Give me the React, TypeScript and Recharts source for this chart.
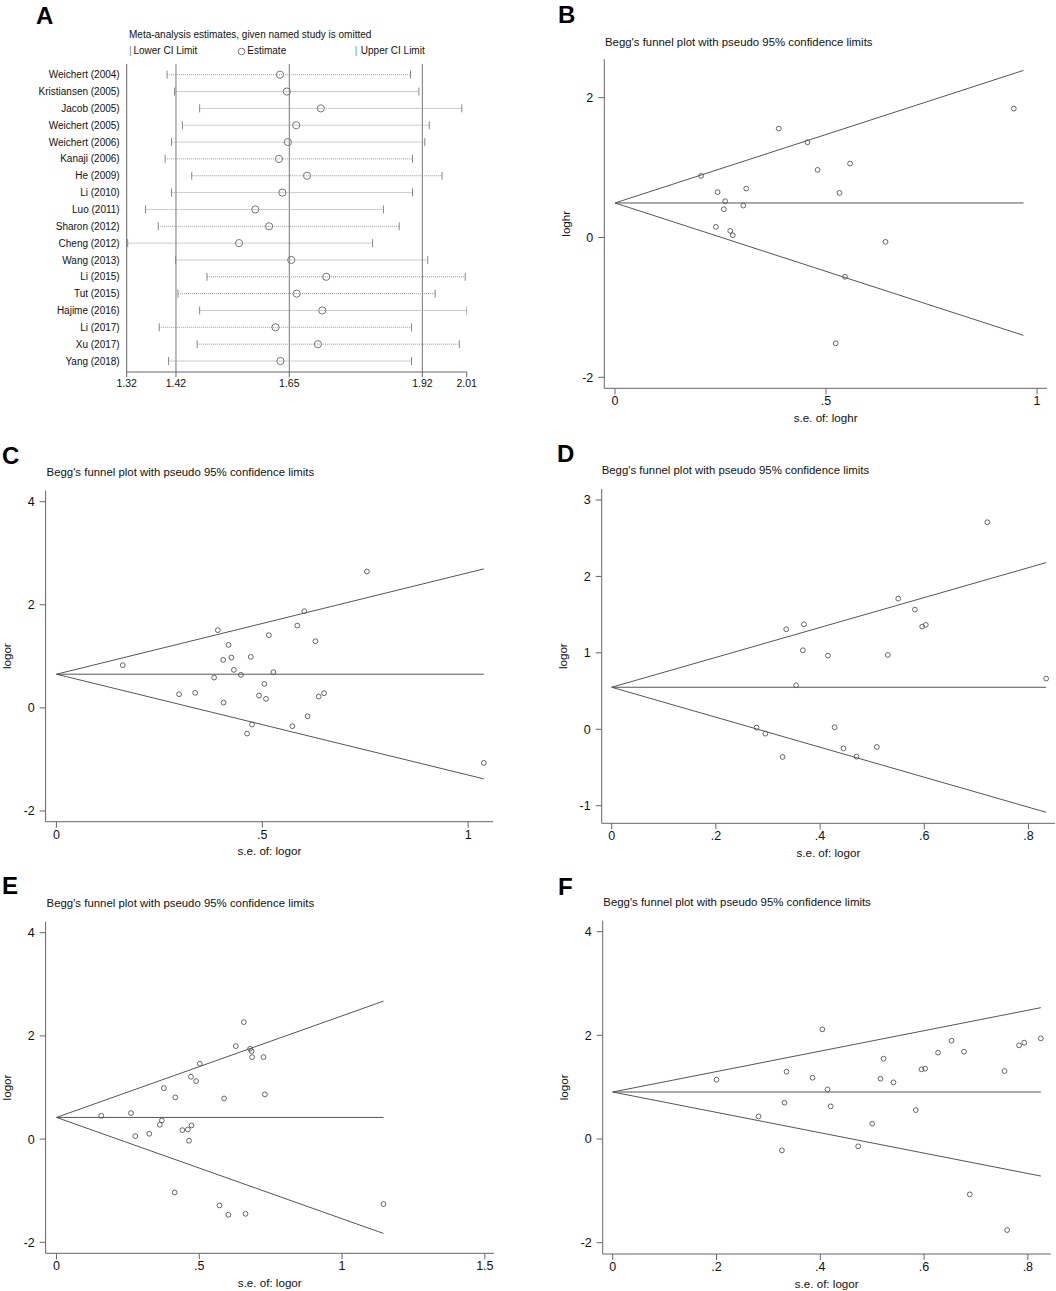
import React from 'react'
import { ScatterChart, Scatter, XAxis, YAxis, ReferenceLine } from 'recharts'

// A: leave-one-out estimates
const studies = [
  'Weichert (2004)', 'Kristiansen (2005)', 'Jacob (2005)', 'Weichert (2005)', 'Weichert (2006)',
  'Kanaji (2006)', 'He (2009)', 'Li (2010)', 'Luo (2011)', 'Sharon (2012)', 'Cheng (2012)',
  'Wang (2013)', 'Li (2015)', 'Tut (2015)', 'Hajime (2016)', 'Li (2017)', 'Xu (2017)', 'Yang (2018)',
]
const estimate = [1.631, 1.645, 1.714, 1.664, 1.647, 1.629, 1.686, 1.636, 1.581, 1.609, 1.548, 1.654, 1.725, 1.665, 1.717, 1.622, 1.708, 1.632]
const lowerCI = [1.402, 1.417, 1.468, 1.433, 1.411, 1.398, 1.452, 1.411, 1.358, 1.384, 1.322, 1.419, 1.483, 1.424, 1.468, 1.386, 1.463, 1.405]
const upperCI = [1.896, 1.913, 2.0, 1.934, 1.925, 1.9, 1.96, 1.9, 1.841, 1.873, 1.819, 1.931, 2.007, 1.946, 2.01, 1.898, 1.995, 1.898]
const overallLines = [1.42, 1.65, 1.92]
const xTicksA = [1.32, 1.42, 1.65, 1.92, 2.01]

// B..F: funnel plots (se, effect)
const seB = [0.204, 0.243, 0.261, 0.258, 0.239, 0.273, 0.279, 0.304, 0.311, 0.388, 0.456, 0.48, 0.557, 0.532, 0.641, 0.545, 0.523, 0.945]
const effB = [0.881, 0.648, 0.519, 0.405, 0.152, 0.095, 0.033, 0.457, 0.7, 1.557, 1.362, 0.967, 1.057, 0.638, -0.062, -0.562, -1.514, 1.843]
const funnelB = { center: 0.494, seMax: 0.968, upper: 2.39, lower: -1.4 }

const seC = [0.161, 0.298, 0.337, 0.392, 0.383, 0.405, 0.418, 0.425, 0.431, 0.448, 0.406, 0.472, 0.492, 0.505, 0.509, 0.516, 0.527, 0.475, 0.463, 0.573, 0.585, 0.602, 0.61, 0.629, 0.637, 0.65, 0.754, 1.038]
const effC = [0.828, 0.265, 0.291, 1.507, 0.588, 0.931, 1.222, 0.976, 0.737, 0.64, 0.103, 0.989, 0.239, 0.466, 0.175, 1.41, 0.692, -0.323, -0.498, -0.356, 1.597, 1.875, -0.162, 1.293, 0.22, 0.285, 2.645, -1.067]
const funnelC = { center: 0.653, seMax: 1.038, upper: 2.696, lower: -1.377 }

const seD = [0.278, 0.295, 0.328, 0.335, 0.354, 0.367, 0.369, 0.415, 0.428, 0.445, 0.47, 0.509, 0.53, 0.55, 0.582, 0.596, 0.603, 0.721, 0.834]
const effD = [0.022, -0.057, -0.362, 1.309, 0.576, 1.034, 1.374, 0.964, 0.026, -0.249, -0.358, -0.231, 0.973, 1.71, 1.566, 1.344, 1.366, 2.709, 0.663]
const funnelD = { center: 0.55, seMax: 0.834, upper: 2.181, lower: -1.086 }

const seE = [0.157, 0.261, 0.276, 0.325, 0.362, 0.369, 0.376, 0.416, 0.414, 0.441, 0.46, 0.473, 0.464, 0.471, 0.489, 0.502, 0.571, 0.587, 0.602, 0.628, 0.656, 0.662, 0.678, 0.683, 0.685, 0.725, 0.73, 1.145]
const effE = [0.452, 0.504, 0.058, 0.103, 0.278, 0.362, 0.988, 0.808, -1.034, 0.174, 0.187, 0.265, -0.032, 1.208, 1.124, 1.46, -1.286, 0.788, -1.466, 1.802, 2.267, -1.447, 1.751, 1.705, 1.589, 1.589, 0.866, -1.26]
const funnelE = { center: 0.42, seMax: 1.145, upper: 2.674, lower: -1.828 }

const seF = [0.2, 0.281, 0.326, 0.331, 0.335, 0.385, 0.404, 0.414, 0.42, 0.473, 0.5, 0.516, 0.522, 0.541, 0.584, 0.595, 0.602, 0.627, 0.653, 0.677, 0.688, 0.755, 0.76, 0.783, 0.793, 0.825]
const effF = [1.145, 0.437, -0.219, 0.701, 1.299, 1.183, 2.116, 0.958, 0.63, -0.141, 0.296, 1.164, 1.55, 1.093, 0.559, 1.344, 1.357, 1.666, 1.897, 1.685, -1.068, 1.312, -1.756, 1.807, 1.859, 1.942]
const funnelF = { center: 0.907, seMax: 0.825, upper: 2.534, lower: -0.714 }

const FONT = '"Liberation Sans", Arial, Helvetica, sans-serif'
const AXIS = '#666'
const INK = '#111'

const fmtStata = (v: number) => String(v).replace(/^0\./, '.').replace(/^-0\./, '-.')

const layout = {
  A: { box: { left: 0, top: 0, width: 530, height: 440 }, plot: { left: 126.7, top: 64, right: 466.7, bottom: 372 } },
  B: { box: { left: 530, top: 0, width: 526, height: 440 }, plot: { left: 604.3, top: 59.3, right: 1047, bottom: 388.3 } },
  C: { box: { left: 0, top: 440, width: 530, height: 430 }, plot: { left: 45.6, top: 490.7, right: 493.2, bottom: 821.7 } },
  D: { box: { left: 530, top: 440, width: 526, height: 430 }, plot: { left: 601.7, top: 489, right: 1055, bottom: 823.3 } },
  E: { box: { left: 0, top: 870, width: 530, height: 421 }, plot: { left: 45.6, top: 921.7, right: 493.9, bottom: 1253.3 } },
  F: { box: { left: 530, top: 870, width: 526, height: 421 }, plot: { left: 602.7, top: 920.7, right: 1050.7, bottom: 1254 } },
}

function marginsFor(key: keyof typeof layout, yW: number, xH: number) {
  const { box, plot } = layout[key]
  return {
    left: plot.left - box.left - yW,
    top: plot.top - box.top,
    right: box.left + box.width - plot.right,
    bottom: box.top + box.height - plot.bottom - xH,
  }
}

const hollowDot = (p: any) => (
  <circle cx={p.cx} cy={p.cy} r={2.4} fill="none" stroke="#555" strokeWidth={0.9} />
)

function FunnelPanel({ id, se, eff, funnel, xDomain, yDomain, xTicks, yTicks, yLabel, xLabel }: any) {
  const yW = 40
  const xH = 34
  const { box } = layout[id as keyof typeof layout]
  const points = se.map((s: number, i: number) => ({ x: s, y: eff[i] }))
  const tickStyle = { fontSize: 12.5, fill: INK }
  return (
    <div style={{ position: 'absolute', left: box.left, top: box.top }}>
      <ScatterChart width={box.width} height={box.height} margin={marginsFor(id, yW, xH)}>
        <XAxis
          type="number" dataKey="x" domain={xDomain} ticks={xTicks} allowDataOverflow interval={0}
          tickFormatter={fmtStata} stroke={AXIS} tick={tickStyle} tickSize={6} tickMargin={2} height={xH}
          label={(p: any) => {
            const vb = p.viewBox
            return (
              <text x={vb.x + vb.width / 2} y={vb.y + 29} textAnchor="middle" dominantBaseline="central"
                fontSize={11.6} fill={INK}>{xLabel}</text>
            )
          }}
        />
        <YAxis
          type="number" dataKey="y" domain={yDomain} ticks={yTicks} allowDataOverflow interval={0}
          tickFormatter={fmtStata} stroke={AXIS} tick={tickStyle} tickSize={6} tickMargin={5} width={yW}
          label={(p: any) => {
            const vb = p.viewBox
            const cx = vb.x + vb.width - 39
            const cy = vb.y + vb.height / 2
            return (
              <text x={cx} y={cy} transform={`rotate(-90 ${cx} ${cy})`} textAnchor="middle"
                dominantBaseline="central" fontSize={11.6} fill={INK}>{yLabel}</text>
            )
          }}
        />
        <ReferenceLine segment={[{ x: 0, y: funnel.center }, { x: funnel.seMax, y: funnel.center }]} stroke="#555" strokeWidth={1} ifOverflow="visible" />
        <ReferenceLine segment={[{ x: 0, y: funnel.center }, { x: funnel.seMax, y: funnel.upper }]} stroke="#555" strokeWidth={1} ifOverflow="visible" />
        <ReferenceLine segment={[{ x: 0, y: funnel.center }, { x: funnel.seMax, y: funnel.lower }]} stroke="#555" strokeWidth={1} ifOverflow="visible" />
        <Scatter data={points} shape={hollowDot} isAnimationActive={false} />
      </ScatterChart>
    </div>
  )
}

function SensitivityPanel() {
  const yW = 120
  const xH = 30
  const { box } = layout.A
  const estPts = estimate.map((v, i) => ({ x: v, y: i + 1 }))
  const lowPts = lowerCI.map((v, i) => ({ x: v, y: i + 1 }))
  const upPts = upperCI.map((v, i) => ({ x: v, y: i + 1 }))
  const cap = (p: any) => <line x1={p.cx} x2={p.cx} y1={p.cy - 4} y2={p.cy + 4} stroke="#888" strokeWidth={1} />
  const est = (p: any) => <circle cx={p.cx} cy={p.cy} r={3.6} fill="none" stroke="#777" strokeWidth={1} />
  return (
    <div style={{ position: 'absolute', left: box.left, top: box.top }}>
      <ScatterChart width={box.width} height={box.height} margin={marginsFor('A', yW, xH)}>
        <XAxis
          type="number" dataKey="x" domain={[1.32, 2.01]} ticks={xTicksA} allowDataOverflow interval={0}
          stroke={AXIS} tick={{ fontSize: 10.5, fill: INK }} tickSize={5} tickMargin={3} height={xH}
        />
        <YAxis
          type="number" dataKey="y" domain={[0.365, 18.653]} reversed allowDataOverflow interval={0}
          ticks={studies.map((_, i) => i + 1)} tickFormatter={(v: number) => studies[v - 1] ?? ''}
          stroke={AXIS} tickLine={false} tick={{ fontSize: 10, fill: INK }} tickSize={5} tickMargin={2} width={yW}
        />
        {overallLines.map((v) => (
          <ReferenceLine key={v} x={v} stroke="#777" strokeWidth={1} />
        ))}
        {studies.map((s, i) => (
          <ReferenceLine key={s + i} segment={[{ x: lowerCI[i], y: i + 1 }, { x: upperCI[i], y: i + 1 }]}
            stroke="#999" strokeDasharray="1 1" strokeWidth={1} ifOverflow="visible" />
        ))}
        <Scatter data={lowPts} shape={cap} isAnimationActive={false} />
        <Scatter data={upPts} shape={cap} isAnimationActive={false} />
        <Scatter data={estPts} shape={est} isAnimationActive={false} />
      </ScatterChart>
    </div>
  )
}

const absText = (left: number, top: number, size: number, extra: any = {}) => ({
  position: 'absolute' as const, left, top, fontSize: size, lineHeight: 1, whiteSpace: 'nowrap' as const, color: INK, ...extra,
})

const TITLE = "Begg's funnel plot with pseudo 95% confidence limits"

export default function App() {
  return (
    <div style={{ position: 'absolute', left: 0, top: 0, width: 1056, height: 1291, background: '#fff', fontFamily: FONT, overflow: 'hidden' }}>
      <SensitivityPanel />
      <FunnelPanel id="B" se={seB} eff={effB} funnel={funnelB} xDomain={[-0.0254, 1.0237]} yDomain={[-2.157, 2.549]}
        xTicks={[0, 0.5, 1]} yTicks={[-2, 0, 2]} yLabel="loghr" xLabel="s.e. of: loghr" />
      <FunnelPanel id="C" se={seC} eff={effC} funnel={funnelC} xDomain={[-0.0263, 1.0608]} yDomain={[-2.208, 4.213]}
        xTicks={[0, 0.5, 1]} yTicks={[-2, 0, 2, 4]} yLabel="logor" xLabel="s.e. of: logor" />
      <FunnelPanel id="D" se={seD} eff={effD} funnel={funnelD} xDomain={[-0.0192, 0.851]} yDomain={[-1.23, 3.144]}
        xTicks={[0, 0.2, 0.4, 0.6, 0.8]} yTicks={[-1, 0, 1, 2, 3]} yLabel="logor" xLabel="s.e. of: logor" />
      <FunnelPanel id="E" se={seE} eff={effE} funnel={funnelE} xDomain={[-0.038, 1.5316]} yDomain={[-2.213, 4.213]}
        xTicks={[0, 0.5, 1, 1.5]} yTicks={[-2, 0, 2, 4]} yLabel="logor" xLabel="s.e. of: logor" />
      <FunnelPanel id="F" se={seF} eff={effF} funnel={funnelF} xDomain={[-0.0193, 0.844]} yDomain={[-2.218, 4.212]}
        xTicks={[0, 0.2, 0.4, 0.6, 0.8]} yTicks={[-2, 0, 2, 4]} yLabel="logor" xLabel="s.e. of: logor" />

      {/* panel letters */}
      <div style={absText(36, 4, 24, { fontWeight: 'bold', color: '#000' })}>A</div>
      <div style={absText(558, 3, 24, { fontWeight: 'bold', color: '#000' })}>B</div>
      <div style={absText(2, 444, 24, { fontWeight: 'bold', color: '#000' })}>C</div>
      <div style={absText(557, 442, 24, { fontWeight: 'bold', color: '#000' })}>D</div>
      <div style={absText(2, 874, 24, { fontWeight: 'bold', color: '#000' })}>E</div>
      <div style={absText(558, 875, 24, { fontWeight: 'bold', color: '#000' })}>F</div>

      {/* funnel titles */}
      <div style={absText(605, 36.8, 11.4)}>{TITLE}</div>
      <div style={absText(46.6, 466.8, 11.4)}>{TITLE}</div>
      <div style={absText(601.7, 464.5, 11.4)}>{TITLE}</div>
      <div style={absText(46.6, 897.8, 11.4)}>{TITLE}</div>
      <div style={absText(603.3, 896.8, 11.4)}>{TITLE}</div>

      {/* panel A header and legend */}
      <div style={absText(129, 30.4, 10)}>Meta-analysis estimates, given named study is omitted</div>
      <div style={absText(129, 46, 10, { color: '#888' })}>|</div>
      <div style={absText(133.4, 46, 10)}>Lower CI Limit</div>
      <svg style={{ position: 'absolute', left: 237, top: 47 }} width={9} height={9}>
        <circle cx={4.5} cy={4.5} r={3.3} fill="none" stroke="#777" strokeWidth={1} />
      </svg>
      <div style={absText(247.3, 46, 10)}>Estimate</div>
      <div style={absText(354.7, 46, 10, { color: '#888' })}>|</div>
      <div style={absText(360.8, 46, 10)}>Upper CI Limit</div>
    </div>
  )
}
